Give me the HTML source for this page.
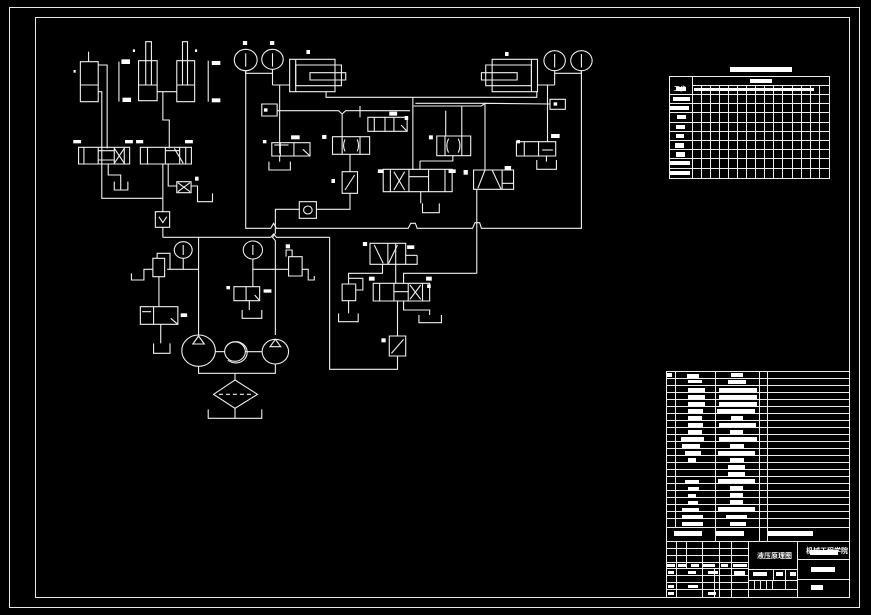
<!DOCTYPE html>
<html><head><meta charset="utf-8"><style>
html,body{margin:0;padding:0;background:#000;}
svg{display:block}
</style></head><body>
<svg width="871" height="615" viewBox="0 0 871 615" xmlns="http://www.w3.org/2000/svg">
<rect x="0" y="0" width="871" height="615" fill="#000"/>
<g fill="none" stroke="#e8e8e8" stroke-width="1">
<rect x="9.5" y="7.5" width="850" height="600"/>
<rect x="35.5" y="17.5" width="814" height="580"/>
</g>

<g transform="translate(60,30) scale(0.35714,0.33333)" fill="none" stroke="#f0f0f0" stroke-width="1.1" style="vector-effect:non-scaling-stroke">
<g style="vector-effect:non-scaling-stroke">
<rect x="57" y="95" width="50" height="120" vector-effect="non-scaling-stroke"/>
</g>
</g>

<g transform="translate(60,30) scale(0.35714,0.33333)" fill="none" stroke="#f0f0f0" stroke-width="1.1">
<style>.c *{vector-effect:non-scaling-stroke}</style>
<g class="c">
<line x1="57" y1="165" x2="107" y2="165"/><line x1="80" y1="65" x2="80" y2="95"/>
<polyline points="107,105 132,105 132,355"/><polyline points="107,185 117,185 117,505 288,505"/>
<rect x="220" y="92" width="52" height="120"/><line x1="220" y1="165" x2="272" y2="165"/><rect x="240" y="35" width="16" height="130"/>
<rect x="327" y="92" width="50" height="123"/><line x1="327" y1="165" x2="377" y2="165"/><rect x="343" y="35" width="14" height="130"/>
<line x1="272" y1="185" x2="327" y2="185"/><polyline points="288,185 288,270 306,270 306,355"/>
<line x1="165" y1="95" x2="165" y2="215"/><line x1="415" y1="92" x2="415" y2="215"/>
<rect x="52" y="352" width="143" height="50"/><line x1="67" y1="352" x2="67" y2="402"/><line x1="107" y1="352" x2="107" y2="402"/><line x1="152" y1="352" x2="152" y2="402"/><line x1="180" y1="352" x2="180" y2="402"/>
<line x1="152" y1="355" x2="180" y2="400"/><line x1="180" y1="355" x2="152" y2="400"/><line x1="107" y1="362" x2="152" y2="362"/><line x1="107" y1="390" x2="152" y2="390"/>
<polyline points="135,402 135,435 170,435 170,480"/><polyline points="152,455 152,480 190,480 190,455"/>
<rect x="225" y="352" width="143" height="50"/><line x1="245" y1="352" x2="245" y2="402"/><line x1="295" y1="352" x2="295" y2="402"/><line x1="335" y1="352" x2="335" y2="402"/><line x1="352" y1="352" x2="352" y2="402"/>
<line x1="295" y1="362" x2="335" y2="362"/><line x1="320" y1="355" x2="345" y2="400"/>
<line x1="288" y1="402" x2="288" y2="545"/>
<polyline points="303,402 303,468 327,468"/><rect x="327" y="455" width="40" height="33"/><line x1="330" y1="485" x2="364" y2="458"/><line x1="330" y1="458" x2="364" y2="485"/>
<polyline points="367,468 385,468 385,515 427,515 427,490"/>
<rect x="267" y="545" width="40" height="47"/><polyline points="277,560 288,578 299,560"/><line x1="288" y1="592" x2="288" y2="622"/>
<polyline points="288,622 590,622 598,612 606,622 755,622"/>
<polyline points="755,622 755,1018 945,1018 945,978"/>
<ellipse cx="520" cy="90" rx="32" ry="32"/><ellipse cx="595" cy="88" rx="30" ry="30"/>
<ellipse cx="1385" cy="92" rx="30" ry="30"/><ellipse cx="1460" cy="92" rx="30" ry="30"/>
<line x1="520" y1="70" x2="520" y2="110"/><line x1="595" y1="70" x2="595" y2="110"/><line x1="1385" y1="72" x2="1385" y2="112"/><line x1="1460" y1="72" x2="1460" y2="112"/>
<rect x="643" y="88" width="127" height="97"/><line x1="660" y1="88" x2="660" y2="185"/><rect x="660" y="105" width="128" height="62"/><rect x="700" y="128" width="100" height="22"/>
<polyline points="520,122 520,130 595,130"/><line x1="595" y1="118" x2="595" y2="165"/><line x1="595" y1="165" x2="643" y2="165"/>
<rect x="1210" y="88" width="127" height="97"/><line x1="1320" y1="88" x2="1320" y2="185"/><rect x="1192" y="105" width="128" height="62"/><rect x="1180" y="128" width="100" height="22"/>
<polyline points="1460,122 1460,130 1385,130"/><line x1="1385" y1="122" x2="1385" y2="165"/><line x1="1337" y1="165" x2="1385" y2="165"/>
<polyline points="520,122 520,595 590,595 598,580 606,595 975,595 982,580 995,580 1000,595 1155,595 1162,578 1175,578 1180,595 1460,595 1460,122"/>
<polyline points="745,185 745,202 1335,202 1335,185"/>
<line x1="615" y1="165" x2="615" y2="370"/>
<rect x="565" y="222" width="43" height="36"/><rect x="1372" y="208" width="43" height="30"/>
<polyline points="608,242 780,242 790,252 800,242 980,242"/>
<polyline points="990,228 1180,228 1190,220 1372,222"/>
<line x1="1365" y1="165" x2="1365" y2="335"/>
<polyline points="988,202 988,420"/><polyline points="995,220 1190,220 1190,420"/>
<polyline points="840,228 840,262"/><polyline points="1080,242 1080,318"/><polyline points="1125,228 1125,318"/>
<rect x="593" y="338" width="107" height="40"/><line x1="617" y1="338" x2="617" y2="378"/><line x1="655" y1="338" x2="655" y2="378"/><line x1="680" y1="358" x2="700" y2="378"/><line x1="600" y1="345" x2="640" y2="345"/>
<polyline points="615,378 615,395"/><polyline points="585,395 585,420 645,420 645,395"/>
<rect x="763" y="320" width="104" height="53"/><line x1="790" y1="320" x2="790" y2="373"/><line x1="840" y1="320" x2="840" y2="373"/><path d="M798 328 Q790 346 798 364 M832 328 Q840 346 832 364"/>
<line x1="790" y1="252" x2="790" y2="320"/>
<rect x="862" y="262" width="110" height="42"/><line x1="880" y1="262" x2="880" y2="304"/><line x1="910" y1="262" x2="910" y2="304"/><line x1="935" y1="262" x2="935" y2="304"/><line x1="955" y1="285" x2="972" y2="304"/>
<line x1="812" y1="373" x2="812" y2="425"/><rect x="790" y="425" width="43" height="65"/><line x1="798" y1="480" x2="825" y2="435"/>
<polyline points="812,490 812,538 718,538"/><rect x="670" y="515" width="48" height="50"/><ellipse cx="694" cy="540" rx="12" ry="12"/>
<polyline points="670,538 603,538 603,610 595,622 603,632 603,915"/>
<rect x="905" y="418" width="193" height="67"/><line x1="925" y1="418" x2="925" y2="485"/><line x1="977" y1="418" x2="977" y2="485"/><line x1="1032" y1="418" x2="1032" y2="485"/><line x1="1078" y1="418" x2="1078" y2="485"/>
<line x1="935" y1="425" x2="965" y2="480"/><line x1="965" y1="425" x2="935" y2="480"/><line x1="977" y1="440" x2="1032" y2="440"/>
<polyline points="1010,485 1010,520"/><polyline points="1015,520 1015,548 1062,548 1062,520"/>
<line x1="1008" y1="393" x2="1008" y2="418"/><polyline points="1008,393 1100,393 1100,377"/>
<rect x="1055" y="318" width="95" height="59"/><line x1="1078" y1="318" x2="1078" y2="377"/><line x1="1125" y1="318" x2="1125" y2="377"/><path d="M1088 326 Q1078 347 1088 368 M1115 326 Q1125 347 1115 368"/>
<rect x="1158" y="420" width="112" height="58"/><line x1="1238" y1="420" x2="1238" y2="478"/><line x1="1170" y1="475" x2="1190" y2="420"/><line x1="1210" y1="420" x2="1235" y2="478"/><line x1="1238" y1="460" x2="1270" y2="460"/>
<line x1="1167" y1="478" x2="1167" y2="730"/><polyline points="1167,730 962,730 962,760"/>
<rect x="1278" y="335" width="110" height="43"/><line x1="1300" y1="335" x2="1300" y2="378"/><line x1="1340" y1="335" x2="1340" y2="378"/><line x1="1350" y1="360" x2="1380" y2="360"/>
<line x1="1362" y1="378" x2="1362" y2="395"/><polyline points="1335,390 1335,418 1390,418 1390,390"/>
<ellipse cx="345" cy="660" rx="25" ry="25"/><ellipse cx="540" cy="660" rx="27" ry="27"/>
<line x1="345" y1="645" x2="345" y2="675"/><line x1="540" y1="645" x2="540" y2="675"/>
<line x1="388" y1="622" x2="388" y2="915"/><polyline points="345,685 345,718 300,718"/><line x1="345" y1="718" x2="388" y2="718"/>
<rect x="260" y="685" width="33" height="55"/><polyline points="272,685 272,670 308,670 308,718"/><polyline points="260,718 235,718 235,750 200,750 200,730"/>
<line x1="277" y1="740" x2="277" y2="830"/>
<rect x="225" y="830" width="105" height="53"/><line x1="262" y1="830" x2="262" y2="883"/><line x1="310" y1="865" x2="330" y2="883"/><line x1="230" y1="845" x2="255" y2="845"/>
<line x1="282" y1="883" x2="282" y2="940"/><polyline points="262,940 262,970 308,970 308,940"/>
<line x1="540" y1="687" x2="540" y2="770"/><polyline points="540,718 640,718"/><rect x="640" y="680" width="38" height="58"/><polyline points="678,718 695,718 695,750 712,750 712,738"/>
<polyline points="633,680 633,660 650,660 650,680"/>
<rect x="487" y="770" width="72" height="42"/><line x1="521" y1="770" x2="521" y2="812"/><line x1="545" y1="795" x2="559" y2="812"/>
<line x1="530" y1="812" x2="530" y2="840"/><polyline points="510,840 510,865 565,865 565,840"/>
<ellipse cx="388" cy="962" rx="47" ry="47"/><polygon points="388,918 372,942 404,942"/>
<ellipse cx="603" cy="965" rx="37" ry="37"/><polygon points="603,928 588,950 618,950"/>
<ellipse cx="490" cy="965" rx="29" ry="29"/><path d="M465 950 A32 32 0 1 1 470 990"/>
<line x1="435" y1="965" x2="461" y2="965"/><line x1="519" y1="965" x2="566" y2="965"/>
<polyline points="388,1009 388,1030 603,1030 603,1002"/><line x1="490" y1="1030" x2="490" y2="1050"/>
<polygon points="490,1050 553,1093 490,1135 430,1093"/><line x1="445" y1="1093" x2="538" y2="1093" stroke-dasharray="4,3"/>
<line x1="490" y1="1135" x2="490" y2="1165"/><polyline points="415,1138 415,1165 565,1165 565,1138"/>
<rect x="868" y="640" width="100" height="63"/><line x1="918" y1="640" x2="918" y2="703"/><line x1="940" y1="640" x2="940" y2="703"/><line x1="968" y1="676" x2="1000" y2="676"/><polyline points="968,703 1000,703 1000,676"/><line x1="880" y1="645" x2="905" y2="700"/><line x1="920" y1="700" x2="945" y2="645"/>
<polyline points="903,703 903,730 808,730 808,762"/><polyline points="940,703 940,760"/>
<rect x="790" y="762" width="38" height="50"/><polyline points="828,780 848,780 848,745 808,745"/>
<line x1="808" y1="812" x2="808" y2="850"/><polyline points="780,850 780,875 835,875 835,850"/>
<rect x="877" y="760" width="158" height="53"/><line x1="895" y1="760" x2="895" y2="813"/><line x1="935" y1="760" x2="935" y2="813"/><line x1="975" y1="760" x2="975" y2="813"/><line x1="1015" y1="760" x2="1015" y2="813"/>
<line x1="980" y1="765" x2="1010" y2="808"/><line x1="1010" y1="765" x2="980" y2="808"/><line x1="935" y1="785" x2="975" y2="785"/>
<polyline points="962,813 962,840 1035,840 1035,855"/><polyline points="1005,855 1005,878 1068,878 1068,855"/>
<line x1="945" y1="813" x2="945" y2="918"/><rect x="922" y="918" width="46" height="60"/><line x1="928" y1="970" x2="962" y2="928"/>
</g>
</g>
<g fill="#fff" transform="translate(60,30) scale(0.35714,0.33333)">
<rect x="172" y="88" width="24" height="14"/><rect x="175" y="203" width="24" height="13"/><rect x="425" y="93" width="24" height="12"/><rect x="425" y="205" width="24" height="12"/>
<rect x="38" y="120" width="6" height="8"/><rect x="204" y="58" width="6" height="8"/><rect x="378" y="58" width="6" height="8"/>
<rect x="37" y="330" width="22" height="10"/><rect x="182" y="330" width="22" height="10"/><rect x="213" y="330" width="20" height="10"/><rect x="350" y="330" width="22" height="10"/>
<rect x="378" y="440" width="10" height="12"/><rect x="512" y="33" width="12" height="12"/><rect x="588" y="33" width="12" height="12"/><rect x="690" y="60" width="10" height="12"/><rect x="1246" y="66" width="10" height="12"/>
<rect x="571" y="235" width="10" height="10"/><rect x="1382" y="217" width="10" height="10"/>
<rect x="647" y="316" width="24" height="12"/><rect x="568" y="330" width="10" height="10"/><rect x="734" y="315" width="12" height="12"/><rect x="922" y="245" width="22" height="12"/><rect x="965" y="258" width="10" height="12"/>
<rect x="1033" y="316" width="11" height="12"/><rect x="1375" y="312" width="24" height="12"/><rect x="1278" y="330" width="10" height="10"/>
<rect x="760" y="447" width="10" height="12"/><rect x="890" y="418" width="16" height="11"/><rect x="1088" y="418" width="20" height="11"/><rect x="1130" y="420" width="12" height="14"/><rect x="1245" y="408" width="18" height="11"/>
<rect x="848" y="636" width="12" height="12"/><rect x="972" y="646" width="20" height="11"/><rect x="865" y="740" width="16" height="12"/><rect x="1025" y="740" width="16" height="12"/><rect x="1028" y="763" width="10" height="11"/><rect x="900" y="925" width="12" height="12"/>
<rect x="632" y="643" width="12" height="12"/><rect x="466" y="768" width="10" height="10"/><rect x="570" y="778" width="22" height="10"/><rect x="338" y="850" width="18" height="11"/>
</g>

<g fill="none" stroke="#eee" stroke-width="1">
<rect x="669.5" y="76.5" width="160" height="102"/>
<line x1="692.5" y1="76" x2="692.5" y2="178"/>
<line x1="692" y1="85.5" x2="829" y2="85.5"/>
<line x1="669" y1="94.5" x2="829" y2="94.5"/><line x1="669" y1="103.5" x2="829" y2="103.5"/><line x1="669" y1="112.5" x2="829" y2="112.5"/><line x1="669" y1="122.5" x2="829" y2="122.5"/><line x1="669" y1="131.5" x2="829" y2="131.5"/><line x1="669" y1="140.5" x2="829" y2="140.5"/><line x1="669" y1="149.5" x2="829" y2="149.5"/><line x1="669" y1="158.5" x2="829" y2="158.5"/><line x1="669" y1="168.5" x2="829" y2="168.5"/>
<path d="M701.5 85V178M710.5 85V178M719.5 85V178M728.5 85V178M737.5 85V178M746.5 85V178M755.5 85V178M764.5 85V178M773.5 85V178M782.5 85V178M792.5 85V178M801.5 85V178M810.5 85V178M819.5 85V178"/>
</g>
<g fill="#fff">
<rect x="730" y="67" width="62" height="5"/><rect x="750" y="79" width="22" height="4"/>
<rect x="676" y="87" width="10" height="4"/><rect x="673" y="97" width="17" height="4"/><rect x="670" y="106" width="19" height="4"/><rect x="677" y="115" width="9" height="4"/><rect x="676" y="125" width="9" height="4"/><rect x="676" y="134" width="8" height="4"/><rect x="675" y="143" width="9" height="5"/><rect x="676" y="152" width="9" height="5"/><rect x="670" y="161" width="20" height="4"/><rect x="670" y="171" width="20" height="4"/>
<rect x="694" y="88" width="120" height="3"/>
</g>

<g fill="none" stroke="#eee" stroke-width="1">
<rect x="666.5" y="371.5" width="183" height="226"/>
<path d="M675.5 371V528M715.5 371V542M759.5 371V542M767.5 371V542"/>
<path d="M666 378.5H849M666 385.5H849M666 392.5H849M666 399.5H849M666 406.5H849M666 413.5H849M666 420.5H849M666 427.5H849M666 434.5H849M666 441.5H849M666 448.5H849M666 455.5H849M666 462.5H849M666 469.5H849M666 476.5H849M666 483.5H849M666 490.5H849M666 497.5H849M666 504.5H849M666 511.5H849M666 518.5H849M666 527.5H849M666 541.5H849"/>
<path d="M676.5 541V598M686.5 541V568M702.5 541V598M719.5 541V598M731.5 541V598M748.5 541V598M797.5 541V598M714.5 568V598"/>
<path d="M666 548.5H748M666 555.5H748M666 562.5H748M666 568.5H748M666 575.5H748M666 582.5H748M666 589.5H748"/>
<path d="M748 569.5H797M748 580.5H797M797 559.5H849M797 579.5H849M773.5 569V580M785.5 569V580M754.5 580V590M760.5 580V590M766.5 580V590M772.5 580V590M785.5 580V590M748 589.5H797"/>
</g>
<g fill="#fff">
<rect x="667" y="373" width="5" height="4"/><rect x="687" y="374" width="12" height="4"/><rect x="731" y="373" width="12" height="4"/>
<rect x="688" y="380" width="14" height="3"/><rect x="728" y="380" width="18" height="4"/>
<rect x="688" y="388" width="17" height="4"/><rect x="719" y="388" width="38" height="4"/>
<rect x="688" y="395" width="17" height="4"/><rect x="719" y="395" width="38" height="4"/>
<rect x="688" y="402" width="17" height="4"/><rect x="719" y="402" width="38" height="4"/>
<rect x="688" y="409" width="15" height="4"/><rect x="717" y="409" width="38" height="4"/>
<rect x="688" y="416" width="14" height="4"/><rect x="731" y="416" width="12" height="4"/>
<rect x="688" y="423" width="15" height="4"/><rect x="719" y="423" width="37" height="4"/>
<rect x="688" y="430" width="14" height="4"/><rect x="730" y="430" width="13" height="4"/>
<rect x="681" y="437" width="23" height="4"/><rect x="719" y="437" width="38" height="4"/>
<rect x="682" y="444" width="18" height="4"/><rect x="730" y="444" width="14" height="4"/>
<rect x="685" y="451" width="16" height="4"/><rect x="718" y="451" width="37" height="4"/>
<rect x="688" y="458" width="8" height="4"/><rect x="730" y="458" width="14" height="4"/>
<rect x="728" y="465" width="17" height="5"/><rect x="728" y="472" width="17" height="5"/>
<rect x="685" y="480" width="14" height="4"/><rect x="718" y="479" width="37" height="4"/>
<rect x="688" y="487" width="11" height="4"/><rect x="730" y="486" width="13" height="4"/>
<rect x="688" y="494" width="8" height="4"/><rect x="730" y="493" width="13" height="4"/>
<rect x="688" y="501" width="10" height="4"/><rect x="730" y="500" width="13" height="4"/>
<rect x="682" y="508" width="17" height="4"/><rect x="718" y="507" width="37" height="4"/>
<rect x="682" y="515" width="21" height="4"/><rect x="726" y="515" width="21" height="4"/>
<rect x="682" y="522" width="21" height="4"/><rect x="730" y="522" width="16" height="4"/>
<rect x="674" y="531" width="28" height="5"/><rect x="716" y="531" width="28" height="5"/><rect x="768" y="531" width="45" height="5"/>
<rect x="810" y="550" width="28" height="5"/>
<rect x="811" y="567" width="24" height="5"/><rect x="811" y="585" width="12" height="5"/>
<rect x="753" y="572" width="14" height="4"/><rect x="776" y="572" width="7" height="4"/><rect x="790" y="572" width="6" height="4"/>
<rect x="667" y="564" width="8" height="3"/><rect x="678" y="564" width="8" height="3"/><rect x="691" y="564" width="8" height="3"/><rect x="703" y="564" width="12" height="3"/><rect x="721" y="564" width="7" height="3"/><rect x="733" y="564" width="14" height="3"/>
<rect x="668" y="571" width="6" height="3"/><rect x="688" y="571" width="8" height="3"/><rect x="708" y="571" width="10" height="3"/><rect x="734" y="571" width="11" height="4"/>
<rect x="668" y="585" width="6" height="3"/><rect x="688" y="585" width="10" height="3"/><rect x="668" y="592" width="6" height="3"/><rect x="708" y="592" width="8" height="3"/>
</g>
<g fill="#fff" font-family="Liberation Sans, Noto Sans CJK SC, sans-serif" font-size="7" font-weight="bold">
<text x="757" y="558">液压原理图</text>
<text x="806" y="553">机械工程学院</text>
<text x="674" y="91" font-size="6">工步</text>
</g>
</svg>
</body></html>
